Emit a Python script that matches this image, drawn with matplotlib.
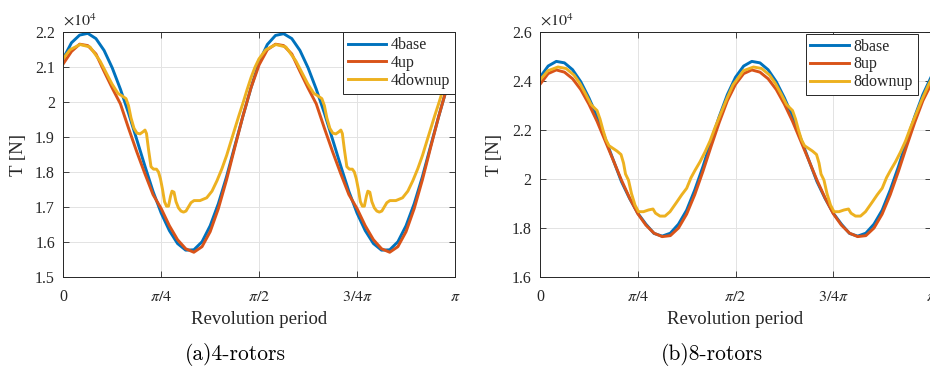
import numpy as np
import matplotlib
matplotlib.use('Agg')
import matplotlib.pyplot as plt
from matplotlib.ticker import FuncFormatter

plt.rcParams['mathtext.fontset'] = 'stix'
plt.rcParams['font.family'] = ['Liberation Serif', 'DejaVu Serif']

# ---------------- data (thrust, x 10^4 N; x positions in units of pi) ----------------
t_grid = np.linspace(0, 1, 49)

base4 = [2.125, 2.170, 2.192, 2.197, 2.182, 2.148, 2.098, 2.037, 1.968, 1.893, 1.817, 1.744, 1.682,
         1.632, 1.595, 1.576, 1.577, 1.600, 1.646, 1.709, 1.786, 1.873, 1.959, 2.041, 2.115,
         2.165, 2.191, 2.196,
         2.182, 2.148, 2.098, 2.037, 1.968, 1.893, 1.817, 1.744, 1.682, 1.632, 1.595, 1.576,
         1.577, 1.600, 1.646, 1.709, 1.786, 1.873, 1.959, 2.041, 2.115]
up4 = [2.110, 2.145, 2.166, 2.162, 2.138, 2.088, 2.040, 1.995, 1.925, 1.858, 1.795, 1.735, 1.695,
       1.646, 1.606, 1.580, 1.570, 1.586, 1.629, 1.695, 1.777, 1.869, 1.959, 2.041, 2.107,
       2.150, 2.166, 2.162,
       2.138, 2.088, 2.040, 1.995, 1.925, 1.858, 1.795, 1.735, 1.695, 1.646, 1.606, 1.580,
       1.570, 1.586, 1.629, 1.695, 1.777, 1.869, 1.959, 2.041, 2.107]
downup4_t = [0, .0171, .0426, .0682, .0937, .1090, .1243, .1396, .1498, .1601,
             .1665, .1728, .1805, .1881, .1958, .2035, .2086, .2124, .2175, .2239,
             .2303, .2379, .2430, .2481, .2533, .2584, .2635, .2686, .2737, .2775,
             .2826, .2877, .2941, .3005, .3069, .3132, .3196, .3260, .3337, .3490,
             .3661, .3796, .3924, .4052, .4172, .4281, .4383, .4485, .4595, .4690,
             .4792, .4894, .4996,
             .5171, .5426, .5682, .5937, .6090, .6243, .6396, .6498, .6601,
             .6665, .6728, .6805, .6881, .6958, .7035, .7086, .7124, .7175, .7239,
             .7303, .7379, .7430, .7481, .7533, .7584, .7635, .7686, .7737, .7775,
             .7826, .7877, .7941, .8005, .8069, .8132, .8196, .8260, .8337, .8490,
             .8661, .8796, .8924, .9052, .9172, .9281, .9383, .9485, .9595, .9690,
             .9792, .9894, .9996]
downup4 = [2.125, 2.150, 2.165, 2.158, 2.118, 2.085, 2.052, 2.025, 2.018, 2.010,
           1.990, 1.955, 1.925, 1.911, 1.909, 1.915, 1.920, 1.910, 1.865, 1.815,
           1.808, 1.808, 1.800, 1.780, 1.750, 1.715, 1.702, 1.702, 1.730, 1.745,
           1.742, 1.715, 1.697, 1.688, 1.685, 1.688, 1.700, 1.712, 1.718, 1.718,
           1.726, 1.745, 1.775, 1.810, 1.848, 1.888, 1.925, 1.962, 2.000, 2.035,
           2.070, 2.100, 2.124,
           2.150, 2.165, 2.158, 2.118, 2.085, 2.052, 2.025, 2.018, 2.010,
           1.990, 1.955, 1.925, 1.911, 1.909, 1.915, 1.920, 1.910, 1.865, 1.815,
           1.808, 1.808, 1.800, 1.780, 1.750, 1.715, 1.702, 1.702, 1.730, 1.745,
           1.742, 1.715, 1.697, 1.688, 1.685, 1.688, 1.700, 1.712, 1.718, 1.718,
           1.726, 1.745, 1.775, 1.810, 1.848, 1.888, 1.925, 1.962, 2.000, 2.035,
           2.070, 2.100, 2.124]

base8 = [2.416, 2.462, 2.481, 2.475, 2.447, 2.398, 2.332, 2.256, 2.166, 2.077, 1.989, 1.920, 1.860,
         1.815, 1.777, 1.766, 1.778, 1.815, 1.872, 1.955, 2.050, 2.155, 2.255, 2.345, 2.416,
         2.462, 2.481, 2.475,
         2.447, 2.398, 2.332, 2.256, 2.166, 2.077, 1.989, 1.920, 1.860, 1.815, 1.777, 1.766,
         1.778, 1.815, 1.872, 1.955, 2.050, 2.155, 2.255, 2.345, 2.416]
up8 = [2.387, 2.431, 2.446, 2.437, 2.410, 2.366, 2.306, 2.236, 2.156, 2.076, 1.995, 1.922, 1.858,
       1.811, 1.778, 1.764, 1.768, 1.799, 1.856, 1.936, 2.031, 2.133, 2.231, 2.320, 2.387,
       2.431, 2.446, 2.437,
       2.410, 2.366, 2.306, 2.236, 2.156, 2.076, 1.995, 1.922, 1.858, 1.811, 1.778, 1.764,
       1.768, 1.799, 1.856, 1.936, 2.031, 2.133, 2.231, 2.320, 2.387]
downup8_t = [0, .0205, .0460, .0665, .0870, .1023, .1176, .1304, .1381, .1458,
             .1535, .1611, .1688, .1765, .1867, .1969, .2072, .2136, .2187, .2263,
             .2340, .2430, .2519, .2647, .2775, .2890, .2954, .3069, .3197, .3325,
             .3496, .3624, .3752, .3862, .3964, .4092, .4220, .4348, .4476, .4629,
             .4783, .4936,
             .5205, .5460, .5665, .5870, .6023, .6176, .6304, .6381, .6458,
             .6535, .6611, .6688, .6765, .6867, .6969, .7072, .7136, .7187, .7263,
             .7340, .7430, .7519, .7647, .7775, .7890, .7954, .8069, .8197, .8325,
             .8496, .8624, .8752, .8862, .8964, .9092, .9220, .9348, .9476, .9629,
             .9783, .9936, 1.0]
downup8 = [2.405, 2.443, 2.458, 2.452, 2.425, 2.390, 2.345, 2.305, 2.292, 2.280,
           2.245, 2.200, 2.160, 2.136, 2.125, 2.114, 2.100, 2.065, 2.020, 1.995,
           1.940, 1.893, 1.866, 1.866, 1.873, 1.877, 1.860, 1.848, 1.848, 1.866,
           1.905, 1.935, 1.962, 2.005, 2.035, 2.070, 2.110, 2.155, 2.210, 2.270,
           2.330, 2.385,
           2.443, 2.458, 2.452, 2.425, 2.390, 2.345, 2.305, 2.292, 2.280,
           2.245, 2.200, 2.160, 2.136, 2.125, 2.114, 2.100, 2.065, 2.020, 1.995,
           1.940, 1.893, 1.866, 1.866, 1.873, 1.877, 1.860, 1.848, 1.848, 1.866,
           1.905, 1.935, 1.962, 2.005, 2.035, 2.070, 2.110, 2.155, 2.210, 2.270,
           2.330, 2.385, 2.405]

xtick_labels = ['0', r'$\pi/4$', r'$\pi/2$', r'$3/4\pi$', r'$\pi$']
yticks4 = [1.5, 1.6, 1.7, 1.8, 1.9, 2.0, 2.1, 2.2]
yticks8 = [1.6, 1.8, 2.0, 2.2, 2.4, 2.6]
labels4 = ['4base', '4up', '4downup']
labels8 = ['8base', '8up', '8downup']
colors = ['#0072BD', '#D95319', '#EDB120']

# ---------------- layout ----------------
W, H = 930, 366
fig = plt.figure(figsize=(W / 100, H / 100), dpi=100)


def px_axes(x0, x1, y0, y1):
    return fig.add_axes([x0 / W, 1 - y1 / H, (x1 - x0) / W, (y1 - y0) / H])


ax1 = px_axes(63.3, 455, 32.3, 276.7)
ax2 = px_axes(540, 931, 32.3, 276.7)

AXC = '#262626'


def draw(ax, base, up, dt, du, labels, ylim, yticks, leg_anchor):
    ax.plot(t_grid * np.pi, base, color=colors[0], lw=2.1, label=labels[0])
    ax.plot(t_grid * np.pi, up, color=colors[1], lw=2.1, label=labels[1])
    ax.plot(np.array(dt) * np.pi, du, color=colors[2], lw=2.1, label=labels[2])
    ax.set_xlim(0, np.pi)
    ax.set_ylim(*ylim)
    ax.set_xticks(np.pi * np.array([0, 0.25, 0.5, 0.75, 1.0]))
    ax.set_xticklabels(xtick_labels)
    ax.set_yticks(yticks)
    ax.yaxis.set_major_formatter(FuncFormatter(lambda v, p: f'{v:g}'))
    ax.grid(True, color='#e3e3e3', linewidth=0.7)
    ax.set_axisbelow(True)
    ax.tick_params(direction='in', top=True, right=True, length=4, width=0.6,
                   color=AXC, labelcolor=AXC, labelsize=11.5)
    ax.tick_params(axis='x', pad=9)
    ax.tick_params(axis='y', pad=6)
    for s in ax.spines.values():
        s.set_linewidth(0.7)
        s.set_color(AXC)
    ax.set_xlabel('Revolution period', fontsize=13.5, color=AXC, labelpad=4)
    ax.set_ylabel('T [N]', fontsize=13.5, color=AXC, labelpad=6)
    ax.text(0.0, 1.012, r'$\times 10^{4}$', transform=ax.transAxes, ha='left', va='bottom',
            fontsize=11.5, color=AXC)
    leg = ax.legend(loc='upper right', bbox_to_anchor=leg_anchor, borderaxespad=0,
                    frameon=True, fancybox=False, framealpha=1, edgecolor=AXC,
                    fontsize=11.5, handlelength=2.4, handletextpad=0.3,
                    labelspacing=0.12, borderpad=0.3)
    leg.get_frame().set_linewidth(0.7)
    for txt in leg.get_texts():
        txt.set_color(AXC)


draw(ax1, base4, up4, downup4_t, downup4, labels4, (1.5, 2.2), yticks4, (1.0, 1.0))
draw(ax2, base8, up8, downup8_t, downup8, labels8, (1.6, 2.6), yticks8, (0.966, 0.994))

fig.text(235 / W, 1 - 355 / H, '(a)4-rotors', ha='center', va='center', family='cmr10', fontsize=15.5)
fig.text(711.7 / W, 1 - 355 / H, '(b)8-rotors', ha='center', va='center', family='cmr10', fontsize=15.5)

fig.savefig('out.png', dpi=100)
